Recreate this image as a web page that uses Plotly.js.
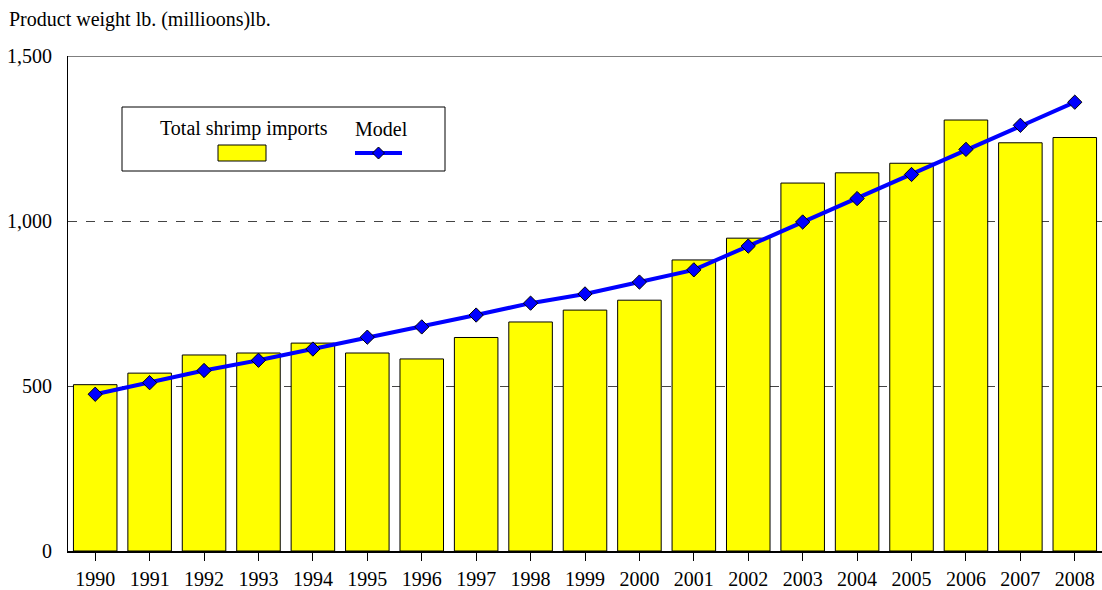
<!DOCTYPE html>
<html>
<head>
<meta charset="utf-8">
<script src="https://cdn.plot.ly/plotly-3.0.1.min.js"></script>
<style>html,body{margin:0;padding:0;background:#fff;}#chart{width:1102px;height:590px;}</style>
</head>
<body>
<div id="chart"></div>
<script>
var years = ['1990','1991','1992','1993','1994','1995','1996','1997','1998','1999','2000','2001','2002','2003','2004','2005','2006','2007','2008'];
var shrimpImports = [504, 539, 594, 600, 630, 600, 582, 647, 694, 730, 760, 882, 948, 1115, 1146, 1175, 1306, 1237, 1253];
var modelValues = [475, 510, 547, 578, 612, 648, 679, 715, 751, 779, 815, 852, 924, 997, 1068, 1141, 1217, 1290, 1360];
var yTicks = [0, 500, 1000, 1500];

var L = 68, R = 0, T = 56, B = 39, W = 1102, H = 590;
var pw = W - L - R, ph = H - T - B;
function px(x){ return (x - L) / pw; }
function py(y){ return (H - B - y) / ph; }

var fam = 'Liberation Serif, Times New Roman, serif';
var font = {family: fam, size: 20, color: '#000'};

var traces = [
  {type: 'bar', x: years, y: shrimpImports, name: 'Total shrimp imports', width: 0.8,
   marker: {color: '#FFFF00', line: {color: '#000', width: 1}}, hoverinfo: 'x+y'},
  {type: 'scatter', mode: 'lines+markers', x: years, y: modelValues, name: 'Model',
   line: {color: '#0000FF', width: 4},
   marker: {symbol: 'diamond', size: 11, color: '#0000FF', line: {color: '#000', width: 1}}}
];

function diamond(cx, cy, r){
  return 'M' + px(cx - r) + ',' + py(cy) + ' L' + px(cx) + ',' + py(cy - r) + ' L' + px(cx + r) + ',' + py(cy) + ' L' + px(cx) + ',' + py(cy + r) + ' Z';
}

var layout = {
  width: W, height: H,
  margin: {l: L, r: R, t: T, b: B},
  paper_bgcolor: '#fff', plot_bgcolor: '#fff',
  showlegend: false,
  font: font,
  xaxis: {type: 'category', range: [-0.5, 18.5], showgrid: false, showline: true, linecolor: '#000', linewidth: 2,
          ticks: 'outside', ticklen: 8, tickcolor: '#000', tickwidth: 1, tickfont: font, ticklabelstandoff: 1, fixedrange: true},
  yaxis: {range: [0, 1500], tickvals: yTicks, tickformat: ',d', showgrid: true, gridcolor: '#444', griddash: 'dash', gridwidth: 1,
          zeroline: false, showline: true, linecolor: '#000', linewidth: 1, ticks: '', tickfont: font, ticklabelstandoff: 11, fixedrange: true},
  shapes: [
    {type: 'line', xref: 'paper', yref: 'y', x0: 0, x1: 1, y0: 1500, y1: 1500, line: {color: '#000', width: 1}},
    {type: 'rect', xref: 'paper', yref: 'paper', x0: px(122), x1: px(445), y0: py(171), y1: py(107), line: {color: '#000', width: 1}, fillcolor: '#fff', layer: 'above'},
    {type: 'rect', xref: 'paper', yref: 'paper', x0: px(218), x1: px(266), y0: py(161), y1: py(145), line: {color: '#000', width: 1}, fillcolor: '#FFFF00', layer: 'above'},
    {type: 'line', xref: 'paper', yref: 'paper', x0: px(355), x1: px(402), y0: py(153), y1: py(153), line: {color: '#0000FF', width: 4}, layer: 'above'},
    {type: 'path', xref: 'paper', yref: 'paper', path: diamond(378.5, 153, 6), fillcolor: '#0000FF', line: {color: '#000', width: 1}, layer: 'above'}
  ],
  annotations: [
    {xref: 'paper', yref: 'paper', x: px(7), y: py(20), xanchor: 'left', yanchor: 'middle', showarrow: false,
     text: 'Product weight lb. (millioons)lb.', font: font},
    {xref: 'paper', yref: 'paper', x: px(244), y: py(129), xanchor: 'center', yanchor: 'middle', showarrow: false,
     text: 'Total shrimp imports', font: font},
    {xref: 'paper', yref: 'paper', x: px(381), y: py(129), xanchor: 'center', yanchor: 'middle', showarrow: false,
     text: 'Model', font: font}
  ]
};

Plotly.newPlot('chart', traces, layout, {displayModeBar: false, staticPlot: true});
</script>
</body>
</html>
